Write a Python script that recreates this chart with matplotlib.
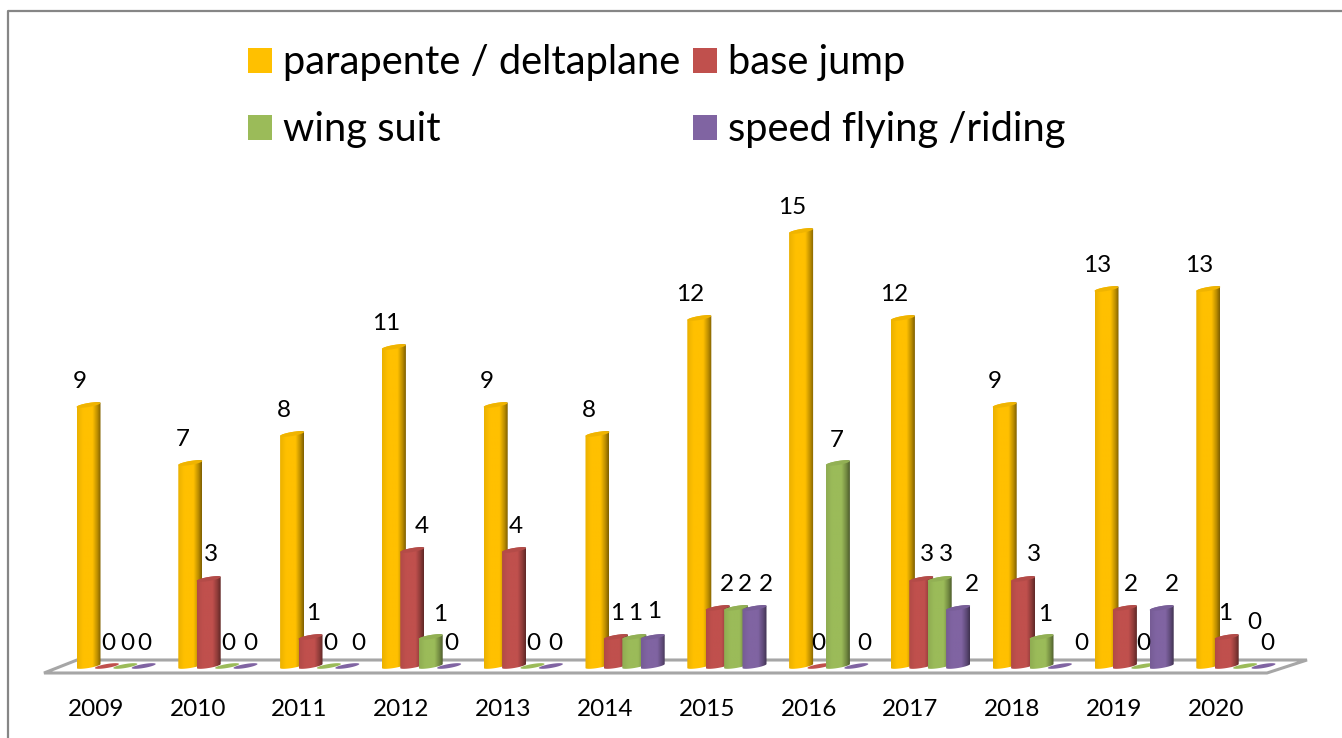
import numpy as np
import matplotlib
matplotlib.use("Agg")
import matplotlib.pyplot as plt
from matplotlib.colors import LinearSegmentedColormap
from matplotlib.lines import Line2D
from matplotlib.patches import Patch, PathPatch, Polygon
from matplotlib.path import Path

plt.rcParams['font.family'] = ['Lato', 'DejaVu Sans']

# data
years = ['2009', '2010', '2011', '2012', '2013', '2014',
         '2015', '2016', '2017', '2018', '2019', '2020']
parapente = [9, 7, 8, 11, 9, 8, 12, 15, 12, 9, 13, 13]
base_jump = [0, 3, 1, 4, 4, 1, 2, 0, 3, 3, 2, 1]
wing_suit = [0, 0, 0, 1, 0, 1, 2, 7, 3, 1, 0, 0]
speed_flying = [0, 0, 0, 0, 0, 1, 2, 0, 2, 0, 2, 0]

names = ['parapente / deltaplane', 'base jump', 'wing suit', 'speed flying /riding']
colors = ['#FFC000', '#C0504D', '#9BBB59', '#8064A2']

# figure size and pixel layout of the plot area
W, H = 1342, 738
BASE_PX = 666
UNIT_PX = 29.0
GROUP_PX = 101.8
FIRST_PX = 96
LEFT_PX, RIGHT_PX, TOP_PX = 45, 1270, 160
BAR_W = 24 / GROUP_PX
BAR_STEP = 18.4 / GROUP_PX
FIRST_OFF = -7.5 / GROUP_PX

# label nudges in pixels (excel placed these by hand, so they wander)
label_dx = [
    [-8.5, -8, -8, -8, -8.5, -8.5, -9, -9, -9, -9.5, -9.5, -9],
    [1, 2, 2.5, 9, 2, 1, 9, -1.5, 6, 11, 6, -2],
    [2, 1, 1, 9, 0.5, 1, 9, -1, 6, 3.5, 0, 9],
    [1, 4.5, 11, 2, 4, 1, 11.5, 8, 14, 21, 10, 3.5],
]
label_dy = [
    [23.5] * 12,
    [22.5, 24.5, 23.5, 23.5, 23.5, 23.5, 23.5, 22.5, 24.5, 24.5, 23.5, 23.5],
    [22.5, 22.5, 22.5, 22.5, 22.5, 23.5, 23.5, 22.5, 24.5, 22.5, 22.5, 43.5],
    [22.5, 22.5, 22.5, 22.5, 22.5, 25.5, 23.5, 22.5, 23.5, 22.5, 23.5, 22.5],
]


def shade(hex_color):
    # dull left edge, bright body, dark right edge, like the excel cylinder
    c = np.array(matplotlib.colors.to_rgb(hex_color))
    return LinearSegmentedColormap.from_list('cyl', [
        (0.00, c * 0.92), (0.25, c), (0.65, c), (0.85, c * 0.75), (1.00, c * 0.50)])


def cylinder(ax, cx, value, color, z):
    half = BAR_W / 2
    rise = 2.0 / UNIT_PX   # the cap tilts up to the right
    bulge = 2.0 / UNIT_PX
    t = np.linspace(np.pi, 0, 30)
    top_x = cx + half * np.cos(t)
    top_y = value + bulge * np.sin(t) + rise * np.cos(t)
    low_x = top_x[::-1]
    low_y = -bulge * np.sin(t) + rise * np.cos(t[::-1])
    pts = np.column_stack([np.r_[top_x, low_x], np.r_[top_y, low_y]])
    if value == 0:
        ax.add_patch(Polygon(pts, closed=True, fc=color, ec='none', zorder=z, clip_on=False))
        return
    outline = Path(np.vstack([pts, pts[0]]), closed=True)
    clip = PathPatch(outline, transform=ax.transData, fc='none', ec='none')
    ax.add_patch(clip)
    grad = np.linspace(0, 1, 64).reshape(1, -1)
    img = ax.imshow(grad, cmap=shade(color), aspect='auto', zorder=z,
                    extent=(cx - half, cx + half, -0.2, value + 0.2))
    img.set_clip_box(fig.bbox)
    img.set_clip_path(clip)
    # cap
    back_y = value - bulge * np.sin(t) + rise * np.cos(t)
    cap = np.column_stack([np.r_[top_x, top_x[::-1]], np.r_[top_y, back_y[::-1]]])
    ax.add_patch(Polygon(cap, closed=True, fc=np.array(matplotlib.colors.to_rgb(color)) * 0.94,
                         ec='none', zorder=z + 0.1))


fig = plt.figure(figsize=(W / 100, H / 100), dpi=100, facecolor='white')

# chart border
fig.add_artist(Line2D([8 / W, 8 / W, 1342 / W], [0, (H - 11) / H, (H - 11) / H],
                      color='#868686', lw=1.6, zorder=-2))

# floor of the 3d chart
floor = np.array([[44, 673], [1267, 673], [1307, 660], [77, 660]], dtype=float)
floor[:, 0] /= W
floor[:, 1] = (H - floor[:, 1]) / H
fig.add_artist(Polygon(floor, closed=True, fc='white', ec='#A6A6A6', lw=2.2, zorder=-1))

ax = fig.add_axes([LEFT_PX / W, (H - BASE_PX) / H, (RIGHT_PX - LEFT_PX) / W, (BASE_PX - TOP_PX) / H])
ax.patch.set_alpha(0)
x = np.arange(len(years))

series = [parapente, base_jump, wing_suit, speed_flying]
for s, values in enumerate(series):
    for i, v in enumerate(values):
        cx = x[i] + FIRST_OFF + s * BAR_STEP
        cylinder(ax, cx, v, colors[s], 3 + s * 0.5)
        ax.annotate(str(v), xy=(cx, v), xytext=(label_dx[s][i] * 0.72, label_dy[s][i] * 0.72),
                    textcoords='offset points', ha='center', va='center', fontsize=17.5, color='black',
                    zorder=10, annotation_clip=False)

ax.set_xlim((LEFT_PX - FIRST_PX) / GROUP_PX, (RIGHT_PX - FIRST_PX) / GROUP_PX)
ax.set_ylim(0, (BASE_PX - TOP_PX) / UNIT_PX)
ax.set_xticks(x)
ax.set_xticklabels(years, fontsize=17.5)
ax.tick_params(axis='x', length=0, pad=23.5)
ax.set_yticks([])
for sp in ax.spines.values():
    sp.set_visible(False)

# legend reads row by row, matplotlib fills columns, so swap the order
handles = [Patch(fc=colors[i], ec='none', label=names[i]) for i in [0, 2, 1, 3]]
fig.legend(handles=handles, ncol=2, loc='upper left', bbox_to_anchor=(216 / W, (H - 12.5) / H),
           frameon=False, fontsize=28.7, handlelength=0.6, handleheight=0.6, handletextpad=0.28,
           columnspacing=0.33, labelspacing=0.75, borderpad=0.3)

fig.savefig('out.png', dpi=100, facecolor='white')
